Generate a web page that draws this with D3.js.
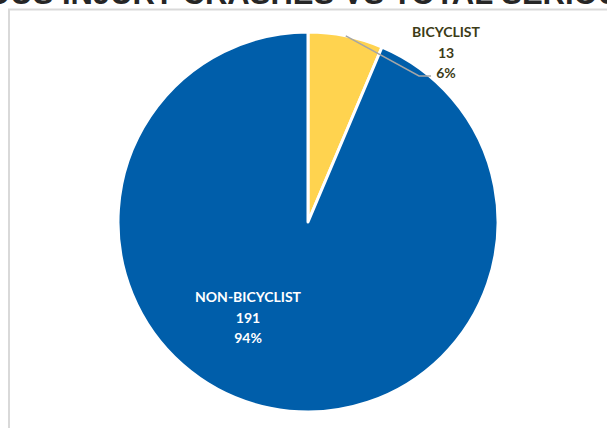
<!DOCTYPE html>
<html>
<head>
<meta charset="utf-8">
<script src="https://cdn.jsdelivr.net/npm/d3@7"></script>
<style>
  html, body { margin: 0; padding: 0; background: #fff; overflow: hidden; }
  svg { display: block; }
</style>
</head>
<body>
<svg id="chart" width="607" height="428"></svg>
<script>
const categories = ["BICYCLIST", "NON-BICYCLIST"];
const values = [13, 191];
const percentLabels = ["6%", "94%"];
const colors = ["#FFD34F", "#005EAA"];
const titleText = "BICYCLIST SERIOUS INJURY CRASHES VS TOTAL SERIOUS INJURY CRASHES";

const svg = d3.select("#chart");

// chart frame
svg.append("rect")
  .attr("x", 9).attr("y", 9.5)
  .attr("width", 700).attr("height", 500)
  .attr("fill", "#fff")
  .attr("stroke", "#d9d9d9")
  .attr("stroke-width", 2);

// title (clipped at the top of the viewport, as in the reference)
const title = svg.append("text")
  .attr("y", 4)
  .attr("font-family", "Liberation Sans, Arial, sans-serif")
  .attr("font-weight", "bold")
  .attr("font-size", 31)
  .attr("fill", "#262626")
  .text(titleText);
const idx = titleText.indexOf("INJURY");
const prefixW = title.node().getSubStringLength(0, idx);
title.attr("x", 62 - prefixW);

const cx = 308, cy = 222, r = 190;
const data = categories.map((c, i) => ({ name: c, value: values[i], pct: percentLabels[i], color: colors[i] }));

const pie = d3.pie().value(d => d.value).sort(null);
const arcs = pie(data);
const arc = d3.arc().innerRadius(0).outerRadius(r);

const g = svg.append("g").attr("transform", `translate(${cx},${cy})`);

g.selectAll("path.slice")
  .data(arcs)
  .join("path")
  .attr("class", "slice")
  .attr("d", arc)
  .attr("fill", d => d.data.color)
  .attr("stroke", "#fff")
  .attr("stroke-width", 3)
  .attr("stroke-linejoin", "round");

// leader line for small slice
const small = arcs[0];
const mid = (small.startAngle + small.endAngle) / 2;
const p0 = [Math.sin(mid) * r, -Math.cos(mid) * r];
const p1 = [419 - cx, 76 - cy];
const p2 = [431 - cx, 76 - cy];
g.append("path")
  .attr("d", d3.line()([p0, p1, p2]))
  .attr("fill", "none")
  .attr("stroke", "#a6a6a6")
  .attr("stroke-width", 1.5);

const labelFont = "Lato, 'Open Sans', sans-serif";

function drawLabel(d, x, y, fill) {
  const t = svg.append("text")
    .attr("text-anchor", "middle")
    .attr("font-family", labelFont)
    .attr("font-weight", "bold")
    .attr("font-size", 14)
    .attr("fill", fill);
  [d.data.name, String(d.data.value), d.data.pct].forEach((s, i) => {
    t.append("tspan").attr("x", x).attr("y", y + i * 20.5).text(s);
  });
}

drawLabel(arcs[0], 446, 37, "#3D3C17");
drawLabel(arcs[1], 248, 302, "#ffffff");
</script>
</body>
</html>
